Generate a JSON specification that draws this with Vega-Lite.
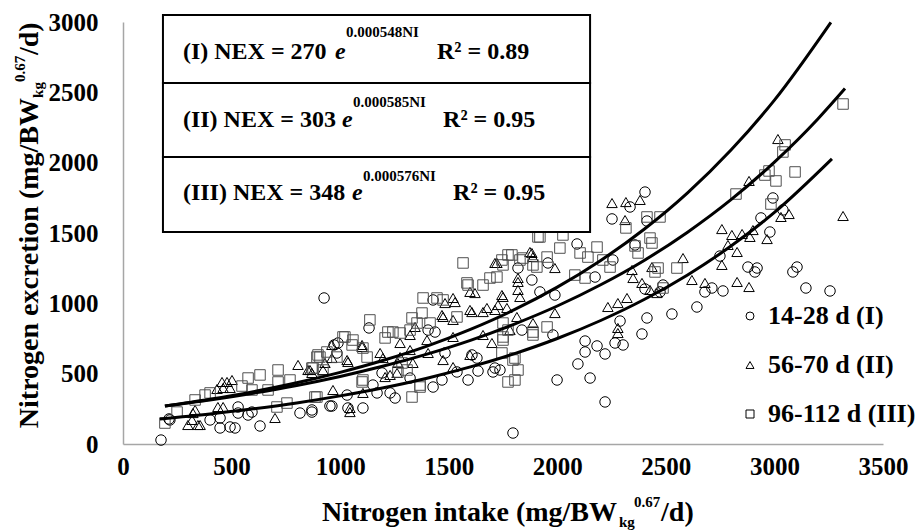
{
 "$schema": "https://vega.github.io/schema/vega-lite/v6.json",
 "width": 760, "height": 422,
 "autosize": {"type": "none"},
 "padding": {"left": 123, "top": 22, "right": 37, "bottom": 87},
 "background": "white",
 "config": {"view": {"stroke": null}, "font": "Liberation Serif"},
 "datasets": {
  "pts": [
   {"s":"I","x":175,"y":28},{"s":"I","x":212,"y":178},{"s":"I","x":216,"y":171},{"s":"I","x":401,"y":171},{"s":"I","x":447,"y":185},{"s":"I","x":447,"y":114},{"s":"I","x":493,"y":121},{"s":"I","x":516,"y":114},{"s":"I","x":631,"y":128},{"s":"I","x":530,"y":220},{"s":"I","x":530,"y":263},{"s":"I","x":576,"y":206},{"s":"I","x":594,"y":227},{"s":"I","x":815,"y":220},{"s":"I","x":870,"y":227},{"s":"I","x":962,"y":270},{"s":"I","x":870,"y":242},{"s":"I","x":926,"y":1038},{"s":"I","x":1133,"y":825},{"s":"I","x":990,"y":718},{"s":"I","x":972,"y":704},{"s":"I","x":985,"y":647},{"s":"I","x":1032,"y":348},{"s":"I","x":1036,"y":256},{"s":"I","x":1105,"y":256},{"s":"I","x":953,"y":270},{"s":"I","x":1151,"y":419},{"s":"I","x":1170,"y":363},{"s":"I","x":1230,"y":363},{"s":"I","x":1253,"y":327},{"s":"I","x":1193,"y":505},{"s":"I","x":1322,"y":469},{"s":"I","x":1428,"y":405},{"s":"I","x":1469,"y":455},{"s":"I","x":1483,"y":647},{"s":"I","x":1538,"y":512},{"s":"I","x":1589,"y":455},{"s":"I","x":1635,"y":519},{"s":"I","x":1704,"y":512},{"s":"I","x":1713,"y":540},{"s":"I","x":1607,"y":633},{"s":"I","x":1630,"y":611},{"s":"I","x":1428,"y":1024},{"s":"I","x":1437,"y":796},{"s":"I","x":1405,"y":810},{"s":"I","x":1796,"y":78},{"s":"I","x":1883,"y":1166},{"s":"I","x":1920,"y":1081},{"s":"I","x":1957,"y":1287},{"s":"I","x":1819,"y":1251},{"s":"I","x":1989,"y":1059},{"s":"I","x":1736,"y":526},{"s":"I","x":1837,"y":810},{"s":"I","x":1980,"y":775},{"s":"I","x":2404,"y":1791},{"s":"I","x":2335,"y":1685},{"s":"I","x":2252,"y":1600},{"s":"I","x":2413,"y":1585},{"s":"I","x":2091,"y":1422},{"s":"I","x":2358,"y":1415},{"s":"I","x":2256,"y":1308},{"s":"I","x":2174,"y":1187},{"s":"I","x":2404,"y":1102},{"s":"I","x":2487,"y":1130},{"s":"I","x":2473,"y":1081},{"s":"I","x":2643,"y":974},{"s":"I","x":2528,"y":924},{"s":"I","x":2413,"y":896},{"s":"I","x":2289,"y":874},{"s":"I","x":2390,"y":782},{"s":"I","x":2128,"y":732},{"s":"I","x":2183,"y":697},{"s":"I","x":2266,"y":718},{"s":"I","x":2303,"y":704},{"s":"I","x":2220,"y":640},{"s":"I","x":2128,"y":654},{"s":"I","x":2095,"y":569},{"s":"I","x":2151,"y":469},{"s":"I","x":1999,"y":455},{"s":"I","x":2220,"y":299},{"s":"I","x":2993,"y":1749},{"s":"I","x":3039,"y":1664},{"s":"I","x":2938,"y":1607},{"s":"I","x":2979,"y":1507},{"s":"I","x":2749,"y":1336},{"s":"I","x":2878,"y":1258},{"s":"I","x":2920,"y":1251},{"s":"I","x":2910,"y":1223},{"s":"I","x":3085,"y":1223},{"s":"I","x":3104,"y":1258},{"s":"I","x":3145,"y":1109},{"s":"I","x":3256,"y":1088},{"s":"I","x":2712,"y":1109},{"s":"I","x":2763,"y":1088},{"s":"I","x":2680,"y":1081},
   {"s":"II","x":299,"y":135},{"s":"II","x":318,"y":171},{"s":"II","x":355,"y":135},{"s":"II","x":332,"y":242},{"s":"II","x":322,"y":220},{"s":"II","x":345,"y":135},{"s":"II","x":437,"y":263},{"s":"II","x":461,"y":263},{"s":"II","x":502,"y":455},{"s":"II","x":479,"y":441},{"s":"II","x":461,"y":398},{"s":"II","x":433,"y":391},{"s":"II","x":493,"y":398},{"s":"II","x":456,"y":441},{"s":"II","x":806,"y":562},{"s":"II","x":852,"y":526},{"s":"II","x":861,"y":526},{"s":"II","x":921,"y":526},{"s":"II","x":962,"y":611},{"s":"II","x":1032,"y":597},{"s":"II","x":1101,"y":704},{"s":"II","x":1184,"y":647},{"s":"II","x":1197,"y":611},{"s":"II","x":1262,"y":505},{"s":"II","x":1266,"y":576},{"s":"II","x":1322,"y":668},{"s":"II","x":1400,"y":739},{"s":"II","x":1474,"y":903},{"s":"II","x":1520,"y":882},{"s":"II","x":1598,"y":953},{"s":"II","x":1658,"y":938},{"s":"II","x":1727,"y":988},{"s":"II","x":1782,"y":810},{"s":"II","x":1819,"y":1095},{"s":"II","x":1819,"y":1152},{"s":"II","x":1828,"y":1045},{"s":"II","x":1722,"y":1287},{"s":"II","x":1883,"y":1358},{"s":"II","x":1520,"y":1038},{"s":"II","x":1598,"y":1081},{"s":"II","x":967,"y":384},{"s":"II","x":1045,"y":256},{"s":"II","x":1045,"y":227},{"s":"II","x":700,"y":185},{"s":"II","x":870,"y":505},{"s":"II","x":930,"y":576},{"s":"II","x":962,"y":704},{"s":"II","x":1036,"y":583},{"s":"II","x":1101,"y":690},{"s":"II","x":1105,"y":363},{"s":"II","x":1207,"y":476},{"s":"II","x":1230,"y":491},{"s":"II","x":1276,"y":718},{"s":"II","x":1335,"y":576},{"s":"II","x":1276,"y":618},{"s":"II","x":1345,"y":832},{"s":"II","x":1322,"y":775},{"s":"II","x":1520,"y":761},{"s":"II","x":1658,"y":775},{"s":"II","x":1699,"y":718},{"s":"II","x":1474,"y":597},{"s":"II","x":1520,"y":547},{"s":"II","x":1598,"y":633},{"s":"II","x":1405,"y":647},{"s":"II","x":1469,"y":917},{"s":"II","x":1607,"y":938},{"s":"II","x":1676,"y":967},{"s":"II","x":1713,"y":953},{"s":"II","x":1768,"y":967},{"s":"II","x":1529,"y":1009},{"s":"II","x":1483,"y":1002},{"s":"II","x":1621,"y":1073},{"s":"II","x":1745,"y":1059},{"s":"II","x":1713,"y":1287},{"s":"II","x":1874,"y":1365},{"s":"II","x":1888,"y":1329},{"s":"II","x":1989,"y":1251},{"s":"II","x":1819,"y":1180},{"s":"II","x":1750,"y":1045},{"s":"II","x":2344,"y":1237},{"s":"II","x":2349,"y":1180},{"s":"II","x":2390,"y":1145},{"s":"II","x":2436,"y":1258},{"s":"II","x":2579,"y":1322},{"s":"II","x":2620,"y":1166},{"s":"II","x":2427,"y":1095},{"s":"II","x":2459,"y":1073},{"s":"II","x":2233,"y":974},{"s":"II","x":2279,"y":1002},{"s":"II","x":2321,"y":1038},{"s":"II","x":1989,"y":931},{"s":"II","x":1814,"y":903},{"s":"II","x":1888,"y":860},{"s":"II","x":2279,"y":825},{"s":"II","x":2279,"y":789},{"s":"II","x":2252,"y":1713},{"s":"II","x":2316,"y":1720},{"s":"II","x":2381,"y":1735},{"s":"II","x":2312,"y":1592},{"s":"II","x":3016,"y":2168},{"s":"II","x":2883,"y":1870},{"s":"II","x":3316,"y":1621},{"s":"II","x":3030,"y":1614},{"s":"II","x":3067,"y":1635},{"s":"II","x":2758,"y":1528},{"s":"II","x":2804,"y":1486},{"s":"II","x":2851,"y":1493},{"s":"II","x":2901,"y":1521},{"s":"II","x":2887,"y":1472},{"s":"II","x":2786,"y":1415},{"s":"II","x":2966,"y":1457},{"s":"II","x":2828,"y":1365},{"s":"II","x":2758,"y":1273},{"s":"II","x":2680,"y":1145},{"s":"II","x":2828,"y":1152},{"s":"II","x":2883,"y":1116},
   {"s":"III","x":193,"y":149},{"s":"III","x":249,"y":227},{"s":"III","x":332,"y":313},{"s":"III","x":378,"y":348},{"s":"III","x":401,"y":363},{"s":"III","x":576,"y":469},{"s":"III","x":631,"y":491},{"s":"III","x":714,"y":526},{"s":"III","x":714,"y":441},{"s":"III","x":769,"y":455},{"s":"III","x":893,"y":618},{"s":"III","x":870,"y":540},{"s":"III","x":548,"y":412},{"s":"III","x":594,"y":384},{"s":"III","x":668,"y":384},{"s":"III","x":709,"y":263},{"s":"III","x":755,"y":291},{"s":"III","x":893,"y":334},{"s":"III","x":1566,"y":1287},{"s":"III","x":1745,"y":1308},{"s":"III","x":1791,"y":1344},{"s":"III","x":1842,"y":1322},{"s":"III","x":1906,"y":1258},{"s":"III","x":1911,"y":1472},{"s":"III","x":1658,"y":1130},{"s":"III","x":1722,"y":1187},{"s":"III","x":1589,"y":1130},{"s":"III","x":1382,"y":1038},{"s":"III","x":1137,"y":882},{"s":"III","x":1022,"y":761},{"s":"III","x":1055,"y":704},{"s":"III","x":907,"y":618},{"s":"III","x":921,"y":526},{"s":"III","x":1105,"y":455},{"s":"III","x":1331,"y":334},{"s":"III","x":1368,"y":405},{"s":"III","x":1805,"y":611},{"s":"III","x":1819,"y":526},{"s":"III","x":1805,"y":455},{"s":"III","x":1953,"y":832},{"s":"III","x":1888,"y":775},{"s":"III","x":1584,"y":1145},{"s":"III","x":1690,"y":1180},{"s":"III","x":1773,"y":1344},{"s":"III","x":1750,"y":1273},{"s":"III","x":1446,"y":1038},{"s":"III","x":1474,"y":1024},{"s":"III","x":1538,"y":903},{"s":"III","x":1331,"y":896},{"s":"III","x":1377,"y":931},{"s":"III","x":1354,"y":860},{"s":"III","x":1414,"y":860},{"s":"III","x":1322,"y":810},{"s":"III","x":1243,"y":796},{"s":"III","x":1220,"y":796},{"s":"III","x":1276,"y":789},{"s":"III","x":1207,"y":754},{"s":"III","x":1013,"y":761},{"s":"III","x":1059,"y":739},{"s":"III","x":1105,"y":682},{"s":"III","x":1124,"y":618},{"s":"III","x":898,"y":633},{"s":"III","x":939,"y":654},{"s":"III","x":985,"y":618},{"s":"III","x":1285,"y":576},{"s":"III","x":1308,"y":526},{"s":"III","x":1266,"y":512},{"s":"III","x":1101,"y":441},{"s":"III","x":1368,"y":419},{"s":"III","x":875,"y":540},{"s":"III","x":884,"y":334},{"s":"III","x":1773,"y":810},{"s":"III","x":1750,"y":739},{"s":"III","x":1773,"y":441},{"s":"III","x":2413,"y":1614},{"s":"III","x":2473,"y":1614},{"s":"III","x":2316,"y":1536},{"s":"III","x":2427,"y":1464},{"s":"III","x":2436,"y":1429},{"s":"III","x":2358,"y":1408},{"s":"III","x":2372,"y":1358},{"s":"III","x":2012,"y":1393},{"s":"III","x":2105,"y":1358},{"s":"III","x":2183,"y":1400},{"s":"III","x":2141,"y":1329},{"s":"III","x":2210,"y":1308},{"s":"III","x":2243,"y":1258},{"s":"III","x":1920,"y":1472},{"s":"III","x":2026,"y":1486},{"s":"III","x":1828,"y":1308},{"s":"III","x":1888,"y":1273},{"s":"III","x":1953,"y":1329},{"s":"III","x":2081,"y":1201},{"s":"III","x":2128,"y":1180},{"s":"III","x":2464,"y":1251},{"s":"III","x":2450,"y":1223},{"s":"III","x":2551,"y":1251},{"s":"III","x":1888,"y":796},{"s":"III","x":1750,"y":860},{"s":"III","x":1750,"y":761},{"s":"III","x":1745,"y":647},{"s":"III","x":1796,"y":597},{"s":"III","x":2487,"y":1109},{"s":"III","x":3316,"y":2417},{"s":"III","x":3049,"y":2126},{"s":"III","x":3039,"y":2076},{"s":"III","x":2956,"y":1912},{"s":"III","x":2975,"y":1941},{"s":"III","x":3007,"y":1870},{"s":"III","x":3095,"y":1934},{"s":"III","x":2823,"y":1777},{"s":"III","x":2984,"y":1706}
  ],
  "curves": [
   {"c":"III","x":193,"y":270},{"c":"III","x":400,"y":318},{"c":"III","x":600,"y":372},{"c":"III","x":800,"y":435},{"c":"III","x":1000,"y":509},{"c":"III","x":1200,"y":595},{"c":"III","x":1400,"y":696},{"c":"III","x":1600,"y":815},{"c":"III","x":1800,"y":953},{"c":"III","x":2000,"y":1115},{"c":"III","x":2200,"y":1305},{"c":"III","x":2400,"y":1527},{"c":"III","x":2600,"y":1786},{"c":"III","x":2800,"y":2090},{"c":"III","x":3000,"y":2445},{"c":"III","x":3260,"y":2998},
   {"c":"II","x":193,"y":270},{"c":"II","x":400,"y":313},{"c":"II","x":600,"y":361},{"c":"II","x":800,"y":416},{"c":"II","x":1000,"y":480},{"c":"II","x":1200,"y":554},{"c":"II","x":1400,"y":639},{"c":"II","x":1600,"y":737},{"c":"II","x":1800,"y":851},{"c":"II","x":2000,"y":981},{"c":"II","x":2200,"y":1132},{"c":"II","x":2400,"y":1305},{"c":"II","x":2600,"y":1506},{"c":"II","x":2800,"y":1737},{"c":"II","x":3000,"y":2004},{"c":"II","x":3200,"y":2311},{"c":"II","x":3325,"y":2527},
   {"c":"I","x":170,"y":178},{"c":"I","x":400,"y":213},{"c":"I","x":600,"y":250},{"c":"I","x":800,"y":292},{"c":"I","x":1000,"y":342},{"c":"I","x":1200,"y":400},{"c":"I","x":1400,"y":468},{"c":"I","x":1600,"y":548},{"c":"I","x":1800,"y":641},{"c":"I","x":2000,"y":750},{"c":"I","x":2200,"y":878},{"c":"I","x":2400,"y":1027},{"c":"I","x":2600,"y":1202},{"c":"I","x":2800,"y":1407},{"c":"I","x":3000,"y":1646},{"c":"I","x":3265,"y":2027}
  ],
  "box": [
   {"x1":184,"x2":2151,"top":3050,"bot":2566},
   {"x1":184,"x2":2151,"top":2566,"bot":2040},
   {"x1":184,"x2":2151,"top":2040,"bot":1507}
  ],
  "eq": [
   {"lab":"(I) NEX = 270","ex":"0.000548NI","r2":"R² = 0.89","xl":276,"xe":976,"xs":1027,"xr":1446,"yb":2737,"ys":2893},
   {"lab":"(II) NEX = 303","ex":"0.000585NI","r2":"R² = 0.95","xl":276,"xe":1008,"xs":1059,"xr":1474,"yb":2254,"ys":2396},
   {"lab":"(III) NEX = 348","ex":"0.000576NI","r2":"R² = 0.95","xl":276,"xe":1055,"xs":1105,"xr":1520,"yb":1735,"ys":1870}
  ],
  "titles": [
   {"p":"xmain","t":"Nitrogen intake (mg/BW","x":2275,"y":-547},
   {"p":"xsub","t":"kg","x":2284,"y":-590},
   {"p":"xsup","t":"0.67","x":2353,"y":-448},
   {"p":"xtail","t":"/d)","x":2478,"y":-547},
   {"p":"ymain","t":"Nitrogen excretion (mg/BW","x":-391,"y":2460},
   {"p":"ysub","t":"kg","x":-368,"y":2460},
   {"p":"ysup","t":"0.67","x":-452,"y":2573},
   {"p":"ytail","t":"/d)","x":-391,"y":2765}
  ]
 },
 "layer": [
  {
   "data": {"name": "pts"},
   "mark": {"type": "point", "filled": false, "size": 110, "strokeWidth": 1, "opacity": 1},
   "encoding": {
    "x": {"field": "x", "type": "quantitative", "scale": {"domain": [0, 3500], "nice": false},
     "axis": {"values": [0,500,1000,1500,2000,2500,3000,3500], "format": "d", "title": null, "grid": false, "ticks": false, "domainColor": "#a6a6a6", "domainWidth": 1.5, "labelFont": "Liberation Serif", "labelFontSize": 25, "labelFontWeight": "bold", "labelColor": "black", "labelPadding": 10, "labelFlush": false, "labelOverlap": false}},
    "y": {"field": "y", "type": "quantitative", "scale": {"domain": [0, 3000], "nice": false},
     "axis": {"values": [0,500,1000,1500,2000,2500,3000], "format": "d", "title": null, "grid": false, "ticks": false, "domainColor": "#a6a6a6", "domainWidth": 1.5, "labelFont": "Liberation Serif", "labelFontSize": 25, "labelFontWeight": "bold", "labelColor": "black", "labelPadding": 25, "labelFlush": false, "labelOverlap": false}},
    "stroke": {"condition": {"test": "datum.s == 'III'", "value": "#505050"}, "value": "black"},
    "shape": {"field": "s", "type": "nominal", "scale": {"domain": ["I","II","III"], "range": ["circle","triangle-up","square"]},
     "legend": {"title": null, "orient": "none", "legendX": 614, "legendY": 281, "labelFont": "Liberation Serif", "labelFontSize": 26, "labelFontWeight": "bold", "labelColor": "black", "symbolSize": 64, "symbolStrokeWidth": 1, "symbolStrokeColor": "black", "symbolFillColor": "transparent", "rowPadding": 23, "labelOffset": 5, "labelExpr": "datum.label == 'I' ? '14-28 d (I)' : datum.label == 'II' ? '56-70 d (II)' : '96-112 d (III)'"}}
   }
  },
  {
   "data": {"name": "curves"},
   "mark": {"type": "line", "color": "black", "strokeWidth": 3, "interpolate": "monotone"},
   "encoding": {"x": {"field": "x", "type": "quantitative"}, "y": {"field": "y", "type": "quantitative"}, "detail": {"field": "c"}}
  },
  {
   "data": {"name": "box"},
   "mark": {"type": "rect", "fill": "white", "stroke": "black", "strokeWidth": 2},
   "encoding": {"x": {"field": "x1", "type": "quantitative"}, "x2": {"field": "x2"}, "y": {"field": "top", "type": "quantitative"}, "y2": {"field": "bot"}}
  },
  {
   "data": {"name": "eq"},
   "mark": {"type": "text", "align": "left", "baseline": "alphabetic", "font": "Liberation Serif", "fontSize": 24, "fontWeight": "bold", "color": "black"},
   "encoding": {"x": {"field": "xl", "type": "quantitative"}, "y": {"field": "yb", "type": "quantitative"}, "text": {"field": "lab"}}
  },
  {
   "data": {"name": "eq"},
   "mark": {"type": "text", "align": "left", "baseline": "alphabetic", "font": "Liberation Serif", "fontSize": 24, "fontWeight": "bold", "fontStyle": "italic", "color": "black", "text": "e"},
   "encoding": {"x": {"field": "xe", "type": "quantitative"}, "y": {"field": "yb", "type": "quantitative"}}
  },
  {
   "data": {"name": "eq"},
   "mark": {"type": "text", "align": "left", "baseline": "alphabetic", "font": "Liberation Serif", "fontSize": 15, "fontWeight": "bold", "color": "black"},
   "encoding": {"x": {"field": "xs", "type": "quantitative"}, "y": {"field": "ys", "type": "quantitative"}, "text": {"field": "ex"}}
  },
  {
   "data": {"name": "eq"},
   "mark": {"type": "text", "align": "left", "baseline": "alphabetic", "font": "Liberation Serif", "fontSize": 24, "fontWeight": "bold", "color": "black"},
   "encoding": {"x": {"field": "xr", "type": "quantitative"}, "y": {"field": "yb", "type": "quantitative"}, "text": {"field": "r2"}}
  },
  {
   "data": {"name": "titles"},
   "transform": [{"filter": "datum.p == 'xmain'"}],
   "mark": {"type": "text", "align": "right", "baseline": "alphabetic", "font": "Liberation Serif", "fontSize": 28, "fontWeight": "bold", "color": "black"},
   "encoding": {"x": {"field": "x", "type": "quantitative"}, "y": {"field": "y", "type": "quantitative"}, "text": {"field": "t"}}
  },
  {
   "data": {"name": "titles"},
   "transform": [{"filter": "datum.p == 'xtail'"}],
   "mark": {"type": "text", "align": "left", "baseline": "alphabetic", "font": "Liberation Serif", "fontSize": 28, "fontWeight": "bold", "color": "black"},
   "encoding": {"x": {"field": "x", "type": "quantitative"}, "y": {"field": "y", "type": "quantitative"}, "text": {"field": "t"}}
  },
  {
   "data": {"name": "titles"},
   "transform": [{"filter": "datum.p == 'xsub' || datum.p == 'xsup'"}],
   "mark": {"type": "text", "align": "left", "baseline": "alphabetic", "font": "Liberation Serif", "fontSize": 15, "fontWeight": "bold", "color": "black"},
   "encoding": {"x": {"field": "x", "type": "quantitative"}, "y": {"field": "y", "type": "quantitative"}, "text": {"field": "t"}}
  },
  {
   "data": {"name": "titles"},
   "transform": [{"filter": "datum.p == 'ymain'"}],
   "mark": {"type": "text", "angle": 270, "align": "right", "baseline": "alphabetic", "font": "Liberation Serif", "fontSize": 28, "fontWeight": "bold", "color": "black"},
   "encoding": {"x": {"field": "x", "type": "quantitative"}, "y": {"field": "y", "type": "quantitative"}, "text": {"field": "t"}}
  },
  {
   "data": {"name": "titles"},
   "transform": [{"filter": "datum.p == 'ytail'"}],
   "mark": {"type": "text", "angle": 270, "align": "left", "baseline": "alphabetic", "font": "Liberation Serif", "fontSize": 28, "fontWeight": "bold", "color": "black"},
   "encoding": {"x": {"field": "x", "type": "quantitative"}, "y": {"field": "y", "type": "quantitative"}, "text": {"field": "t"}}
  },
  {
   "data": {"name": "titles"},
   "transform": [{"filter": "datum.p == 'ysub' || datum.p == 'ysup'"}],
   "mark": {"type": "text", "angle": 270, "align": "left", "baseline": "alphabetic", "font": "Liberation Serif", "fontSize": 15, "fontWeight": "bold", "color": "black"},
   "encoding": {"x": {"field": "x", "type": "quantitative"}, "y": {"field": "y", "type": "quantitative"}, "text": {"field": "t"}}
  }
 ]
}
